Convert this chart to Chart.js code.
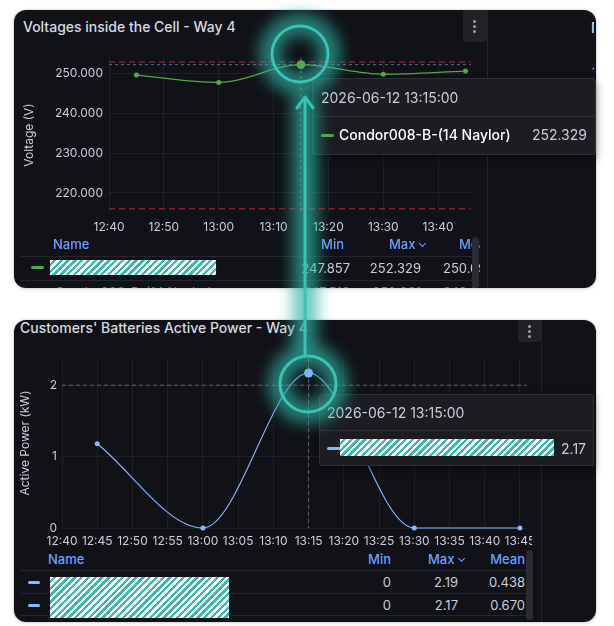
<!DOCTYPE html>
<html>
<head>
<meta charset="utf-8">
<script src="https://cdn.jsdelivr.net/npm/chart.js@4.4.1/dist/chart.umd.min.js"></script>
<style>
  html, body { margin: 0; padding: 0; background: #ffffff; width: 614px; height: 626px; overflow: hidden; font-family: Inter, 'Noto Sans', sans-serif; }
  .panel { position: absolute; background: #111217; border-radius: 12px; overflow: hidden; box-shadow: 0 0 0 1px rgba(0,0,0,0.05), 0 1px 5px rgba(0,0,0,0.14); }
  .abs { position: absolute; white-space: nowrap; }
  .title { color: #d8d9e0; font-size: 14px; font-weight: 500; line-height: 18px; }
  .menu { position: absolute; background: #202226; border-radius: 0 0 4px 4px; }
  .dot { position: absolute; width: 3px; height: 3px; border-radius: 50%; background: #9fa1a8; }
  .sep { position: absolute; width: 1px; background: #24262b; }
  .hline { position: absolute; height: 1px; background: #24262b; }
  .hdr { color: #6e9fff; font-size: 13px; font-weight: 500; line-height: 16px; }
  .cell { color: #ccccdc; font-size: 13px; line-height: 16px; }
  .hatch { position: absolute; background: repeating-linear-gradient(135deg, #ffffff 0 2.4px, #36b9ab 2.4px 4.8px); }
  .dash { position: absolute; height: 3px; border-radius: 2px; }
  .tip { position: absolute; background: #1c1d22; border: 1px solid #2e3036; border-radius: 3px; box-shadow: 0 4px 10px rgba(0,0,0,0.4); }
  .chev { display: inline-block; width: 4px; height: 4px; border-right: 1.3px solid #6e9fff; border-bottom: 1.3px solid #6e9fff; transform: rotate(45deg); margin-left: 4px; position: relative; top: -3px; }
  .clip { position: absolute; overflow: hidden; }
  .scroll { position: absolute; background: #2a2c31; border-radius: 4px; }
</style>
</head>
<body>

<!-- top panel -->
<div class="panel" style="left:14px; top:10px; width:582px; height:278px;"></div>
<div class="abs title" style="left:23px; top:18px;">Voltages inside the Cell - Way 4</div>
<div class="sep" style="left:487px; top:10px; height:278px;"></div>
<div class="menu" style="left:463px; top:10px; width:24px; height:32px;">
  <div class="dot" style="left:10px; top:10px;"></div>
  <div class="dot" style="left:10px; top:15px;"></div>
  <div class="dot" style="left:10px; top:20px;"></div>
</div>
<div class="clip" style="left:488px; top:10px; width:106px; height:278px;">
  <div class="abs title" style="left:103px; top:9px;">N</div>
  <div class="abs cell" style="left:104px; top:54px; font-size:12px;">1</div>
</div>
<div style="position:absolute; left:14px; top:50px; width:462px; height:188px;"><canvas id="voltChart"></canvas></div>

<div class="clip" style="left:20px; top:234px; width:460px; height:54px;">
  <div class="abs hdr" style="left:33px; top:2px;">Name</div>
  <div class="abs hdr" style="right:136px; top:2px;">Min</div>
  <div class="abs hdr" style="left:369px; top:2px;">Max<span class="chev"></span></div>
  <div class="abs hdr" style="left:439px; top:2px;">Mean</div>
  <div class="hline" style="left:0; top:22px; width:460px;"></div>
  <div class="dash" style="left:11px; top:32px; width:13px; background:#56a64b;"></div>
  <div class="hatch" style="left:30px; top:26px; width:166px; height:15px;"></div>
  <div class="abs cell" style="right:130px; top:26px;">247.857</div>
  <div class="abs cell" style="right:59px; top:26px;">252.329</div>
  <div class="abs cell" style="left:423px; top:26px;">250.09</div>
  <div class="hline" style="left:0; top:46px; width:460px;"></div>
  <div class="abs cell" style="left:35px; top:50px; opacity:0.55;">Condor008-B-(14 Naylor)</div>
  <div class="abs cell" style="right:130px; top:50px; opacity:0.55;">247.510</div>
  <div class="abs cell" style="right:59px; top:50px; opacity:0.55;">252.091</div>
  <div class="abs cell" style="left:423px; top:50px; opacity:0.55;">249.95</div>
</div>
<div class="scroll" style="left:472px; top:237px; width:7px; height:51px;"></div>

<!-- bottom panel -->
<div class="panel" style="left:14px; top:320px; width:582px; height:302px;"></div>
<div class="abs title" style="left:20px; top:319px;">Customers' Batteries Active Power - Way 4</div>
<div class="sep" style="left:541px; top:320px; height:302px;"></div>
<div class="menu" style="left:518px; top:320px; width:23px; height:22px;">
  <div class="dot" style="left:10px; top:5px;"></div>
  <div class="dot" style="left:10px; top:10px;"></div>
  <div class="dot" style="left:10px; top:15px;"></div>
</div>
<div style="position:absolute; left:14px; top:350px; width:518px; height:200px;"><canvas id="powerChart"></canvas></div>

<div class="clip" style="left:20px; top:550px; width:512px; height:72px;">
  <div class="abs hdr" style="left:28px; top:1px;">Name</div>
  <div class="abs hdr" style="right:141px; top:1px;">Min</div>
  <div class="abs hdr" style="left:408px; top:1px;">Max<span class="chev"></span></div>
  <div class="abs hdr" style="right:7px; top:1px;">Mean</div>
  <div class="hline" style="left:0; top:20px; width:512px;"></div>
  <div class="dash" style="left:8px; top:31px; width:12px; background:#8ab8ff;"></div>
  <div class="abs cell" style="right:141px; top:24px;">0</div>
  <div class="abs cell" style="right:74px; top:24px;">2.19</div>
  <div class="abs cell" style="right:7px; top:24px;">0.438</div>
  <div class="hline" style="left:0; top:43px; width:512px;"></div>
  <div class="dash" style="left:8px; top:54px; width:12px; background:#8ab8ff;"></div>
  <div class="abs cell" style="right:141px; top:47px;">0</div>
  <div class="abs cell" style="right:74px; top:47px;">2.17</div>
  <div class="abs cell" style="right:7px; top:47px;">0.670</div>
  <div class="hline" style="left:0; top:65px; width:512px;"></div>
  <div class="abs cell" style="right:141px; top:69px; opacity:0.5;">0</div>
  <div class="hatch" style="left:30px; top:27px; width:179px; height:41px;"></div>
</div>
<div class="scroll" style="left:526px; top:550px; width:7px; height:70px;"></div>

<!-- tooltips -->
<div class="tip" style="left:312px; top:78px; width:282px; height:75px;">
  <div class="abs cell" style="left:8px; top:10px; font-size:14px; line-height:18px;">2026-06-12 13:15:00</div>
  <div class="hline" style="left:0; top:37px; width:282px; background:#2e3036;"></div>
  <div class="dash" style="left:8px; top:55px; width:13px; background:#56a64b;"></div>
  <div class="abs" style="left:26px; top:47px; color:#ffffff; font-size:14px; font-weight:500; line-height:18px;">Condor008-B-(14 Naylor)</div>
  <div class="abs cell" style="right:8px; top:47px; font-size:14px; line-height:18px;">252.329</div>
</div>
<div class="tip" style="left:319px; top:394px; width:273px; height:70px;">
  <div class="abs cell" style="left:7px; top:9px; font-size:14px; line-height:18px;">2026-06-12 13:15:00</div>
  <div class="hline" style="left:0; top:35px; width:273px; background:#2e3036;"></div>
  <div class="dash" style="left:7px; top:52px; width:16px; background:#8ab8ff;"></div>
  <div class="hatch" style="left:20px; top:44px; width:214px; height:17px;"></div>
  <div class="abs cell" style="right:7px; top:45px; font-size:14px; line-height:18px;">2.17</div>
</div>

<!-- highlight annotation -->
<svg width="614" height="626" style="position:absolute; left:0; top:0; pointer-events:none;">
  <defs>
    <filter id="glow" x="-60%" y="-60%" width="220%" height="220%"><feGaussianBlur stdDeviation="8"/></filter>
  </defs>
  <g filter="url(#glow)" opacity="0.75">
    <circle cx="300" cy="54" r="30" fill="none" stroke="#2db3a5" stroke-width="20"/>
    <circle cx="308" cy="384" r="29" fill="none" stroke="#2db3a5" stroke-width="20"/>
    <line x1="305" y1="96" x2="305" y2="356" stroke="#2db3a5" stroke-width="24"/>
  </g>
  <circle cx="300" cy="54" r="28" fill="none" stroke="#3cc2b5" stroke-width="3"/>
  <circle cx="308" cy="384" r="28" fill="none" stroke="#3cc2b5" stroke-width="3"/>
  <line x1="305" y1="97" x2="305" y2="356" stroke="#3cc2b5" stroke-width="3"/>
  <polyline points="297,108 305,97 313,108" fill="none" stroke="#3cc2b5" stroke-width="3" stroke-linecap="round" stroke-linejoin="round"/>
</svg>

<script>
// voltage panel
const voltTimes = ['12:45', '13:00', '13:15', '13:30', '13:45'];
const voltValues = [249.7, 247.857, 252.329, 249.9, 250.7];
const voltLimits = [216, 253];
const voltTicks = [220, 230, 240, 250];
const voltTimeTicks = ['12:40', '12:50', '13:00', '13:10', '13:20', '13:30', '13:40'];
const voltRange = [215.2, 254];

// battery power panel
const powerTimes = ['12:45', '13:00', '13:15', '13:30', '13:45'];
const powerValues = [1.18, 0, 2.17, 0, 0];
const powerTicks = [0, 1, 2];
const powerGuide = 2;
const powerTimeTicks = ['12:40', '12:45', '12:50', '12:55', '13:00', '13:05', '13:10',
  '13:15', '13:20', '13:25', '13:30', '13:35', '13:40', '13:45'];
const powerRange = [0, 2.38];

const timeRange = ['12:40', '13:46'];
const hoverTime = '13:15';

const gridColor = 'rgba(204, 204, 220, 0.08)';
const tickColor = '#ccccdc';

function toMin(t) {
  const [h, m] = t.split(':').map(Number);
  return h * 60 + m;
}
function fmt(v) {
  return String(Math.floor(v / 60)).padStart(2, '0') + ':' + String(v % 60).padStart(2, '0');
}

// dashed crosshair at the hovered time
const crosshair = {
  id: 'crosshair',
  beforeDatasetsDraw(chart, args, opts) {
    const { ctx, chartArea: a, scales: { x, y } } = chart;
    ctx.save();
    ctx.strokeStyle = opts.color;
    ctx.lineWidth = 1;
    ctx.setLineDash(opts.dash);
    const px = x.getPixelForValue(toMin(opts.time));
    ctx.beginPath(); ctx.moveTo(px, a.top); ctx.lineTo(px, a.bottom); ctx.stroke();
    const py = y.getPixelForValue(opts.value);
    ctx.beginPath(); ctx.moveTo(a.left, py); ctx.lineTo(a.right, py); ctx.stroke();
    ctx.restore();
  }
};

// keep the plot box fixed: no extra room for edge labels
function noEdgePadding(s) {
  s.paddingTop = 0;
  s.paddingBottom = 0;
  s.paddingLeft = 0;
  s.paddingRight = 0;
}

function xScale(ticks, height, pad) {
  return {
    type: 'linear',
    min: toMin(timeRange[0]),
    max: toMin(timeRange[1]),
    afterBuildTicks: s => { s.ticks = ticks.map(t => ({ value: toMin(t) })); },
    afterFit: s => { s.height = height; noEdgePadding(s); },
    ticks: { callback: v => fmt(v), color: tickColor, font: { family: 'Inter', size: 12 }, padding: pad, maxRotation: 0, autoSkip: false },
    grid: { color: gridColor, drawTicks: false },
    border: { display: false }
  };
}

function yScale(range, ticks, width, title, titlePad, digits, pad) {
  return {
    min: range[0],
    max: range[1],
    afterBuildTicks: s => { s.ticks = ticks.map(v => ({ value: v })); },
    afterFit: s => { s.width = width; noEdgePadding(s); },
    ticks: { callback: v => v.toFixed(digits), color: tickColor, font: { family: 'Inter', size: 12 }, padding: pad },
    title: { display: true, text: title, color: tickColor, font: { family: 'Inter', size: 12 }, padding: { top: titlePad, bottom: 0 } },
    grid: { color: gridColor, drawTicks: false },
    border: { display: false }
  };
}

const hoverRadius = ctx => (ctx.raw && ctx.raw.x === toMin(hoverTime) ? 4.5 : 2.5);

new Chart(document.getElementById('voltChart'), {
  type: 'line',
  data: {
    datasets: [
      {
        data: voltTimes.map((t, i) => ({ x: toMin(t), y: voltValues[i] })),
        borderColor: '#56a64b',
        backgroundColor: '#56a64b',
        borderWidth: 1.3,
        cubicInterpolationMode: 'monotone',
        pointRadius: hoverRadius,
        pointBorderWidth: 0,
        clip: false
      },
      ...voltLimits.map(v => ({
        data: [{ x: toMin(timeRange[0]), y: v }, { x: toMin(timeRange[1]), y: v }],
        borderColor: '#b52634',
        borderWidth: 1,
        borderDash: [6, 4],
        pointRadius: 0
      }))
    ]
  },
  options: {
    responsive: true,
    maintainAspectRatio: false,
    animation: false,
    layout: { padding: { top: 8, right: 5, left: 0, bottom: 0 } },
    plugins: {
      legend: { display: false },
      tooltip: { enabled: false },
      crosshair: { time: hoverTime, value: voltValues[voltTimes.indexOf(hoverTime)], color: 'rgba(150, 170, 190, 0.6)', dash: [3, 3] }
    },
    scales: {
      x: xScale(voltTimeTicks, 26, 8),
      y: yScale(voltRange, voltTicks, 95, 'Voltage (V)', 8, 3, 6)
    }
  },
  plugins: [crosshair]
});

new Chart(document.getElementById('powerChart'), {
  type: 'line',
  data: {
    datasets: [{
      data: powerTimes.map((t, i) => ({ x: toMin(t), y: powerValues[i] })),
      borderColor: '#8ab8ff',
      backgroundColor: '#8ab8ff',
      borderWidth: 1.1,
      cubicInterpolationMode: 'monotone',
      pointRadius: hoverRadius,
      pointBorderWidth: 0,
      clip: false
    }]
  },
  options: {
    responsive: true,
    maintainAspectRatio: false,
    animation: false,
    layout: { padding: { top: 8, right: 5, left: 0, bottom: 0 } },
    plugins: {
      legend: { display: false },
      tooltip: { enabled: false },
      crosshair: { time: hoverTime, value: powerGuide, color: 'rgba(170, 175, 190, 0.45)', dash: [4, 3] }
    },
    scales: {
      x: xScale(powerTimeTicks, 22, 6),
      y: yScale(powerRange, powerTicks, 48, 'Active Power (kW)', 4, 0, 5)
    }
  },
  plugins: [crosshair]
});
</script>
</body>
</html>
